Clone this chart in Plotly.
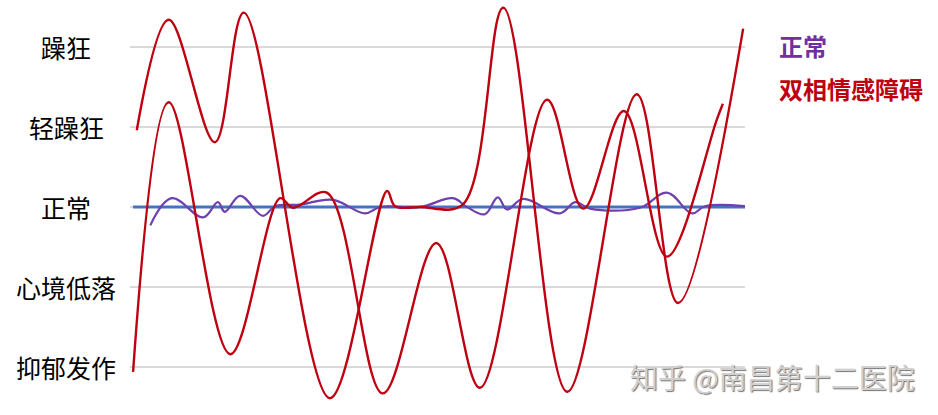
import plotly.graph_objects as go

# mood levels (y axis categories)
level_values = [2, 1, 0, -1, -2]
level_labels = ["躁狂", "轻躁狂", "正常", "心境低落", "抑郁发作"]

# bipolar curve A (time, mood)
bipolar_a_t = [1.1, 6.3, 13.8, 18.5, 32.5, 41.8, 43.1, 47.2, 54.1, 60.7, 71.1, 82.4, 89.1, 99.7]
bipolar_a_v = [0.96, 2.34, 0.81, 2.43, -2.39, 0.20, 0.01, 0.0, 0.03, 2.49, -2.31, 1.41, -1.20, 2.23]

# bipolar curve B
bipolar_b_t = [0.5, 6.3, 16.3, 24.4, 26.5, 32.0, 41.1, 49.8, 56.9, 67.8, 73.7, 80.3, 87.3, 95.4, 96.4]
bipolar_b_v = [-2.06, 1.31, -1.84, 0.11, -0.01, 0.18, -2.33, -0.45, -2.26, 1.34, -0.02, 1.20, -0.62, 1.09, 1.29]

# normal mood curve
normal_t = [3.3, 6.8, 11.9, 14.3, 15.4, 17.9, 21.6, 23.6, 27.6, 33.0, 38.2, 40.7, 47.2, 52.5,
            54.8, 57.7, 59.8, 61.3, 63.9, 69.9, 72.4, 74.8, 82.9, 87.3, 91.4, 93.5, 100.0]
normal_v = [-0.23, 0.11, -0.13, 0.06, -0.06, 0.14, -0.11, 0.01, 0.03, 0.09, -0.08, 0.0, 0.0, 0.11,
            0.0, -0.09, 0.12, -0.03, 0.10, -0.08, 0.06, -0.02, -0.01, 0.18, -0.08, 0.01, 0.01]

# baseline
baseline_t = [0.5, 100.0]
baseline_v = [0.0, 0.0]

legend_names = ["正常", "双相情感障碍"]
watermark = "知乎 @南昌第十二医院"

RED = "#BE0010"
PURPLE_LINE = "#6E42AE"
PURPLE_TEXT = "#7030A0"
BLUE = "#4472C4"
FONT = "Noto Sans CJK SC"

fig = go.Figure()
fig.add_trace(go.Scatter(x=baseline_t, y=baseline_v, mode="lines",
                         line=dict(color=BLUE, width=3), name="基线", showlegend=False))
fig.add_trace(go.Scatter(x=normal_t, y=normal_v, mode="lines",
                         line=dict(color=PURPLE_LINE, width=2.2, shape="spline", smoothing=1.1),
                         name=legend_names[0], showlegend=False))
fig.add_trace(go.Scatter(x=bipolar_a_t, y=bipolar_a_v, mode="lines",
                         line=dict(color=RED, width=2.4, shape="spline", smoothing=1.0),
                         name=legend_names[1], showlegend=False))
fig.add_trace(go.Scatter(x=bipolar_b_t, y=bipolar_b_v, mode="lines",
                         line=dict(color=RED, width=2.4, shape="spline", smoothing=1.0),
                         name=legend_names[1], showlegend=False))

annotations = []
for v, lab in zip(level_values, level_labels):
    annotations.append(dict(x=-0.104, xref="paper", y=v, yref="y", text=lab,
                            showarrow=False, xanchor="center", yanchor="middle",
                            font=dict(family=FONT, size=25, color="#000000")))
annotations.append(dict(x=1.052, xref="paper", y=0.901, yref="paper", text="<b>" + legend_names[0] + "</b>",
                        showarrow=False, xanchor="left", yanchor="middle",
                        font=dict(family=FONT, size=24, color=PURPLE_TEXT)))
annotations.append(dict(x=1.052, xref="paper", y=0.793, yref="paper", text="<b>" + legend_names[1] + "</b>",
                        showarrow=False, xanchor="left", yanchor="middle",
                        font=dict(family=FONT, size=24, color=RED)))
annotations.append(dict(x=1.044, xref="paper", y=0.0815, yref="paper", text=watermark,
                        showarrow=False, xanchor="center", yanchor="middle",
                        font=dict(family=FONT, size=28, color="#d0d0d0", shadow="1px 1px 1px #777")))

fig.update_layout(
    width=938, height=415,
    margin=dict(l=130, r=193, t=5, b=5),
    paper_bgcolor="white", plot_bgcolor="white",
    showlegend=False,
    annotations=annotations,
    xaxis=dict(range=[0, 100], showgrid=False, zeroline=False, showticklabels=False,
               showline=False, ticks=""),
    yaxis=dict(range=[-2.5375, 2.525], tickvals=level_values, showticklabels=False,
               showgrid=True, gridcolor="#d9d9d9", gridwidth=2, zeroline=False, showline=False),
)

fig.write_html("out.html", config={"displayModeBar": False},
               post_script="document.body.style.margin='0px';")
